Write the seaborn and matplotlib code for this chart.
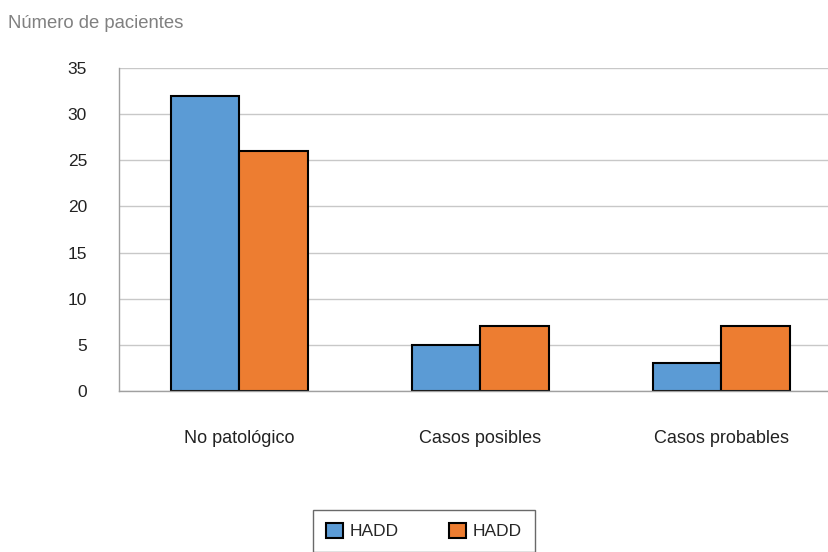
import pandas as pd
import seaborn as sns
import matplotlib.pyplot as plt

# Chart values
categories = ['No patológico', 'Casos posibles', 'Casos probables']
series_names = ['HADD', 'HADD']
hadd_1 = [32, 5, 3]
hadd_2 = [26, 7, 7]
y_ticks = [0, 5, 10, 15, 20, 25, 30, 35]

# Long-form table (hue keys must be unique, labels fixed in legend)
df = pd.DataFrame({
    'categoria': categories * 2,
    'serie': ['s1'] * 3 + ['s2'] * 3,
    'pacientes': hadd_1 + hadd_2,
})

sns.set_theme(style='white')
plt.rcParams['font.family'] = ['Liberation Sans', 'DejaVu Sans']

fig = plt.figure(figsize=(8.29, 5.52), dpi=100)
ax = fig.add_axes([119 / 829, 1 - 391 / 552, (829 - 119) / 829, (391 - 68) / 552])

sns.barplot(data=df, x='categoria', y='pacientes', hue='serie',
            palette=['#5b9bd5', '#ed7d31'], saturation=1, width=0.566,
            edgecolor='black', linewidth=1.5, ax=ax, legend=False)

ax.set_xlim(-0.5, -0.5 + 710 / 241)
ax.set_ylim(0, 35)
ax.set_yticks(y_ticks)
ax.yaxis.grid(True, color='#c8c8c8', linewidth=1)
ax.set_axisbelow(True)
ax.set_xlabel('')
ax.set_ylabel('')
for side in ['top', 'right']:
    ax.spines[side].set_visible(False)
for side in ['left', 'bottom']:
    ax.spines[side].set_color('#a0a0a0')
    ax.spines[side].set_linewidth(1)
ax.tick_params(axis='y', length=0, pad=23, labelsize=12.5, labelcolor='#222222')
ax.tick_params(axis='x', length=0, pad=28, labelsize=13, labelcolor='#222222')

fig.text(8 / 829, 1 - 23 / 552, 'Número de pacientes', fontsize=13.3,
         color='#808080', va='center', ha='left')

# Legend with both series named HADD
handles = [plt.Rectangle((0, 0), 1, 1, facecolor=c, edgecolor='black', linewidth=1.5)
           for c in ['#5b9bd5', '#ed7d31']]
leg = fig.legend(handles, series_names, loc='upper center',
                 bbox_to_anchor=(424 / 829, 1 - 510 / 552), ncol=2,
                 fontsize=12.5, frameon=True, fancybox=False,
                 handlelength=0.95, handleheight=0.95, columnspacing=2.9,
                 handletextpad=0.4, borderpad=0.75, borderaxespad=0)
leg.get_frame().set_edgecolor('#444444')
leg.get_frame().set_linewidth(1)

fig.savefig('out.png', dpi=100)
